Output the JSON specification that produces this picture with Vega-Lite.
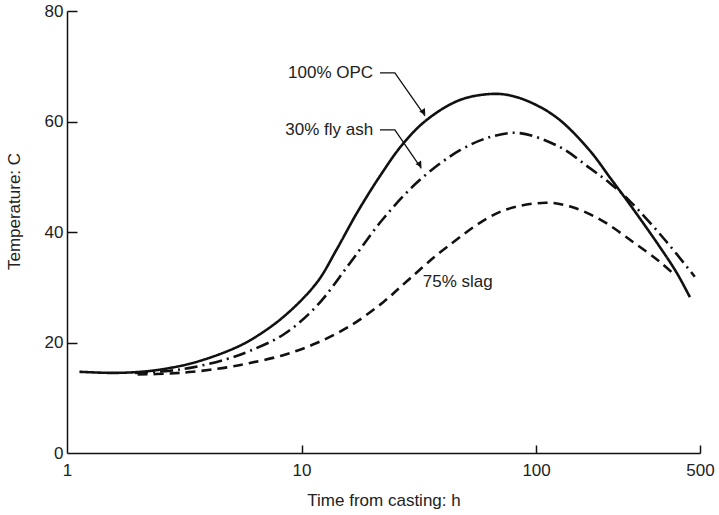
{
  "$schema": "https://vega.github.io/schema/vega-lite/v6.json",
  "width": 633,
  "height": 442,
  "autosize": {"type": "none"},
  "padding": {"left": 67, "top": 11, "right": 19, "bottom": 62},
  "background": "white",
  "config": {
    "view": {"stroke": null},
    "font": "Liberation Sans",
    "axis": {
      "domainColor": "#111",
      "domainWidth": 1.5,
      "tickColor": "#111",
      "tickWidth": 1.5,
      "grid": false,
      "labelFont": "Liberation Sans",
      "labelFontSize": 17,
      "labelColor": "#222",
      "titleFont": "Liberation Sans",
      "titleFontSize": 17,
      "titleFontWeight": "normal",
      "titleColor": "#222"
    }
  },
  "resolve": {"axis": {"x": "independent", "y": "independent"}},
  "datasets": {
    "curves": [
      {"series": "100% OPC", "t": 1.13, "T": 14.7},
      {"series": "100% OPC", "t": 1.6, "T": 14.5},
      {"series": "100% OPC", "t": 2.2, "T": 14.8},
      {"series": "100% OPC", "t": 2.75, "T": 15.4},
      {"series": "100% OPC", "t": 3.44, "T": 16.3},
      {"series": "100% OPC", "t": 4.81, "T": 18.4},
      {"series": "100% OPC", "t": 6.03, "T": 20.4},
      {"series": "100% OPC", "t": 8.35, "T": 24.6},
      {"series": "100% OPC", "t": 11.6, "T": 30.8},
      {"series": "100% OPC", "t": 14.1, "T": 36.8},
      {"series": "100% OPC", "t": 17.2, "T": 43.4},
      {"series": "100% OPC", "t": 21.5, "T": 50.0},
      {"series": "100% OPC", "t": 27.0, "T": 55.9},
      {"series": "100% OPC", "t": 34.2, "T": 60.3},
      {"series": "100% OPC", "t": 47.4, "T": 63.9},
      {"series": "100% OPC", "t": 65.5, "T": 65.0},
      {"series": "100% OPC", "t": 79.6, "T": 64.6},
      {"series": "100% OPC", "t": 100, "T": 63.0},
      {"series": "100% OPC", "t": 126, "T": 60.3},
      {"series": "100% OPC", "t": 169, "T": 54.8},
      {"series": "100% OPC", "t": 207, "T": 49.8},
      {"series": "100% OPC", "t": 251, "T": 45.0},
      {"series": "100% OPC", "t": 337, "T": 37.3},
      {"series": "100% OPC", "t": 398, "T": 32.6},
      {"series": "100% OPC", "t": 453, "T": 28.2},
      {"series": "30% fly ash", "t": 1.95, "T": 14.5},
      {"series": "30% fly ash", "t": 2.75, "T": 14.9},
      {"series": "30% fly ash", "t": 3.44, "T": 15.5},
      {"series": "30% fly ash", "t": 4.81, "T": 17.0},
      {"series": "30% fly ash", "t": 6.03, "T": 18.5},
      {"series": "30% fly ash", "t": 8.35, "T": 21.4},
      {"series": "30% fly ash", "t": 11.6, "T": 26.6},
      {"series": "30% fly ash", "t": 16.1, "T": 34.4},
      {"series": "30% fly ash", "t": 22.3, "T": 42.4},
      {"series": "30% fly ash", "t": 31.9, "T": 49.4},
      {"series": "30% fly ash", "t": 47.4, "T": 54.8},
      {"series": "30% fly ash", "t": 65, "T": 57.3},
      {"series": "30% fly ash", "t": 85.3, "T": 57.9},
      {"series": "30% fly ash", "t": 126, "T": 55.4},
      {"series": "30% fly ash", "t": 169, "T": 51.6},
      {"series": "30% fly ash", "t": 207, "T": 48.8},
      {"series": "30% fly ash", "t": 251, "T": 45.6},
      {"series": "30% fly ash", "t": 354, "T": 38.6},
      {"series": "30% fly ash", "t": 475, "T": 31.9},
      {"series": "75% slag", "t": 2.0, "T": 14.2},
      {"series": "75% slag", "t": 2.75, "T": 14.4},
      {"series": "75% slag", "t": 3.44, "T": 14.7},
      {"series": "75% slag", "t": 4.81, "T": 15.5},
      {"series": "75% slag", "t": 6.03, "T": 16.3},
      {"series": "75% slag", "t": 8.35, "T": 17.7},
      {"series": "75% slag", "t": 11.6, "T": 19.9},
      {"series": "75% slag", "t": 16.1, "T": 23.0},
      {"series": "75% slag", "t": 22.3, "T": 27.3},
      {"series": "75% slag", "t": 29.0, "T": 31.6},
      {"series": "75% slag", "t": 41.7, "T": 37.3},
      {"series": "75% slag", "t": 69.8, "T": 43.6},
      {"series": "75% slag", "t": 110, "T": 45.3},
      {"series": "75% slag", "t": 140, "T": 44.6},
      {"series": "75% slag", "t": 187, "T": 42.3},
      {"series": "75% slag", "t": 259, "T": 38.2},
      {"series": "75% slag", "t": 337, "T": 34.6},
      {"series": "75% slag", "t": 391, "T": 32.2}
    ],
    "leaders": [
      {"group": "opc", "step": 1, "t": 21.6, "T": 68.8},
      {"group": "opc", "step": 2, "t": 25.0, "T": 68.8},
      {"group": "opc", "step": 3, "t": 33.6, "T": 61.0},
      {"group": "fly", "step": 1, "t": 21.6, "T": 58.5},
      {"group": "fly", "step": 2, "t": 25.0, "T": 58.5},
      {"group": "fly", "step": 3, "t": 32.4, "T": 51.5}
    ],
    "arrows": [
      {"group": "opc", "t": 33.0, "T": 61.8},
      {"group": "fly", "t": 31.8, "T": 52.3}
    ],
    "labelsRight": [
      {"label": "100% OPC", "t": 20.2, "T": 68.8},
      {"label": "30% fly ash", "t": 20.2, "T": 58.5}
    ],
    "labelsLeft": [
      {"label": "75% slag", "t": 32.9, "T": 30.9}
    ]
  },
  "layer": [
    {
      "data": {"name": "curves"},
      "mark": {"type": "line", "interpolate": "catmull-rom", "color": "#111", "strokeWidth": 2.6},
      "encoding": {
        "x": {
          "field": "t", "type": "quantitative",
          "scale": {"type": "log", "domain": [1, 500], "nice": false},
          "axis": {
            "orient": "bottom",
            "values": [1, 10, 100, 500],
            "format": "d",
            "ticks": false,
            "labelPadding": 9,
            "labelFlush": false,
            "title": "Time from casting: h",
            "titleY": 47,
            "titleBaseline": "middle"
          }
        },
        "y": {
          "field": "T", "type": "quantitative",
          "scale": {"domain": [0, 80], "nice": false},
          "axis": {
            "orient": "left",
            "values": [0, 20, 40, 60, 80],
            "ticks": false,
            "labelPadding": 4,
            "labelFlush": false,
            "title": "Temperature:  C",
            "titleX": -53,
            "titleY": 200,
            "titleAngle": -90,
            "titleAlign": "center",
            "titleBaseline": "middle"
          }
        },
        "detail": {"field": "series"},
        "strokeDash": {
          "field": "series", "type": "nominal",
          "scale": {"domain": ["100% OPC", "30% fly ash", "75% slag"], "range": [[1, 0], [13, 5, 2, 5], [10, 6]]},
          "legend": null
        }
      }
    },
    {
      "data": {"name": "leaders"},
      "mark": {"type": "line", "color": "#111", "strokeWidth": 1.3},
      "encoding": {
        "x": {
          "field": "t", "type": "quantitative",
          "axis": {"orient": "bottom", "values": [10, 100, 500], "offset": -8, "tickSize": 8, "domain": false, "labels": false, "title": null}
        },
        "y": {
          "field": "T", "type": "quantitative",
          "axis": {"orient": "left", "values": [20, 40, 60, 80], "offset": -10, "tickSize": 10, "domain": false, "labels": false, "title": null}
        },
        "detail": {"field": "group"},
        "order": {"field": "step"}
      }
    },
    {
      "data": {"name": "arrows"},
      "mark": {"type": "point", "shape": "triangle", "filled": true, "color": "#111", "size": 45, "angle": 146, "opacity": 1},
      "encoding": {
        "x": {"field": "t", "type": "quantitative", "axis": null},
        "y": {"field": "T", "type": "quantitative", "axis": null}
      }
    },
    {
      "data": {"name": "labelsRight"},
      "mark": {"type": "text", "align": "right", "baseline": "middle", "fontSize": 17, "color": "#222", "font": "Liberation Sans"},
      "encoding": {
        "x": {"field": "t", "type": "quantitative", "axis": null},
        "y": {"field": "T", "type": "quantitative", "axis": null},
        "text": {"field": "label"}
      }
    },
    {
      "data": {"name": "labelsLeft"},
      "mark": {"type": "text", "align": "left", "baseline": "middle", "fontSize": 17, "color": "#222", "font": "Liberation Sans"},
      "encoding": {
        "x": {"field": "t", "type": "quantitative", "axis": null},
        "y": {"field": "T", "type": "quantitative", "axis": null},
        "text": {"field": "label"}
      }
    }
  ]
}
